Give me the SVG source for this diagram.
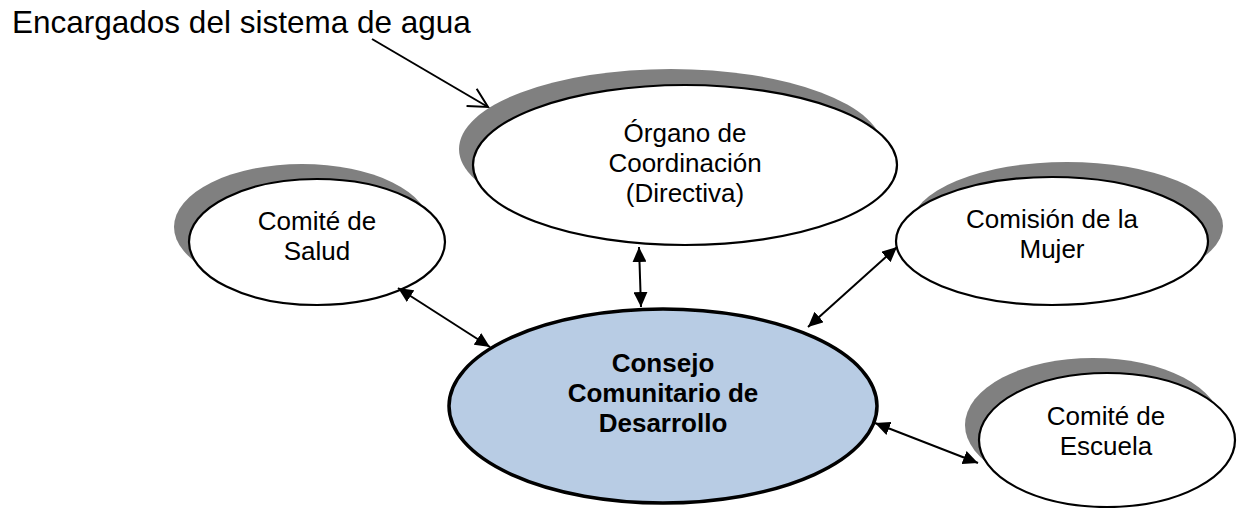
<svg xmlns="http://www.w3.org/2000/svg" width="1238" height="508" viewBox="0 0 1238 508">
<style>
.shadow{fill:#808080;stroke:none}
.node{fill:#ffffff;stroke:#000000;stroke-width:2.2}
.main{fill:#b8cce4;stroke:#000000;stroke-width:3.5}
.lbl{font-family:"Liberation Sans",Arial,sans-serif;font-size:26px;fill:#000000;text-anchor:middle}
.bold{font-weight:bold}
.conn{stroke:#000000;stroke-width:2;fill:none}
</style>
<defs>
<marker id="ah" markerUnits="userSpaceOnUse" markerWidth="16" markerHeight="14" refX="15" refY="7" orient="auto-start-reverse">
<path d="M0,0 L15,7 L0,14 z" fill="#000000"/>
</marker>
<marker id="open" markerUnits="userSpaceOnUse" markerWidth="24" markerHeight="24" refX="20" refY="11" orient="auto">
<path d="M1,1 L20,11 L1,21" fill="none" stroke="#000000" stroke-width="2"/>
</marker>
</defs>
<rect width="1238" height="508" fill="#ffffff"/>
<text id="title" x="12" y="33" font-family="'Liberation Sans',Arial,sans-serif" font-size="31.5" fill="#000000">Encargados del sistema de agua</text>
<g id="organo">
<ellipse class="shadow" cx="671" cy="149" rx="212" ry="80"/>
<ellipse class="node" cx="685" cy="165" rx="212" ry="80"/>
<text class="lbl" x="685" y="142">Órgano de</text>
<text class="lbl" x="685" y="172">Coordinación</text>
<text class="lbl" x="685" y="202">(Directiva)</text>
</g>
<g id="salud">
<ellipse class="shadow" cx="302" cy="227" rx="128" ry="63"/>
<ellipse class="node" cx="317" cy="242" rx="128" ry="63"/>
<text class="lbl" x="317" y="230">Comité de</text>
<text class="lbl" x="317" y="260">Salud</text>
</g>
<g id="mujer">
<ellipse class="shadow" cx="1067" cy="226" rx="156" ry="64"/>
<ellipse class="node" cx="1052" cy="241" rx="156" ry="64"/>
<text class="lbl" x="1052" y="228">Comisión de la</text>
<text class="lbl" x="1052" y="258">Mujer</text>
</g>
<g id="escuela">
<ellipse class="shadow" cx="1093" cy="425" rx="128" ry="67"/>
<ellipse class="node" cx="1107" cy="440" rx="128" ry="67"/>
<text class="lbl" x="1106" y="425">Comité de</text>
<text class="lbl" x="1106" y="455">Escuela</text>
</g>
<g id="consejo">
<ellipse class="main" cx="663" cy="406" rx="214" ry="97"/>
<text class="lbl bold" x="663" y="372">Consejo</text>
<text class="lbl bold" x="663" y="402">Comunitario de</text>
<text class="lbl bold" x="663" y="432">Desarrollo</text>
</g>
<g id="connectors">
<line class="conn" x1="372" y1="39" x2="488" y2="107" marker-end="url(#open)"/>
<line class="conn" x1="639" y1="247" x2="641" y2="307" marker-start="url(#ah)" marker-end="url(#ah)"/>
<line class="conn" x1="398" y1="288" x2="490" y2="347" marker-start="url(#ah)" marker-end="url(#ah)"/>
<line class="conn" x1="897" y1="247" x2="808" y2="327" marker-start="url(#ah)" marker-end="url(#ah)"/>
<line class="conn" x1="875" y1="423" x2="978" y2="463" marker-start="url(#ah)" marker-end="url(#ah)"/>
</g>
</svg>
